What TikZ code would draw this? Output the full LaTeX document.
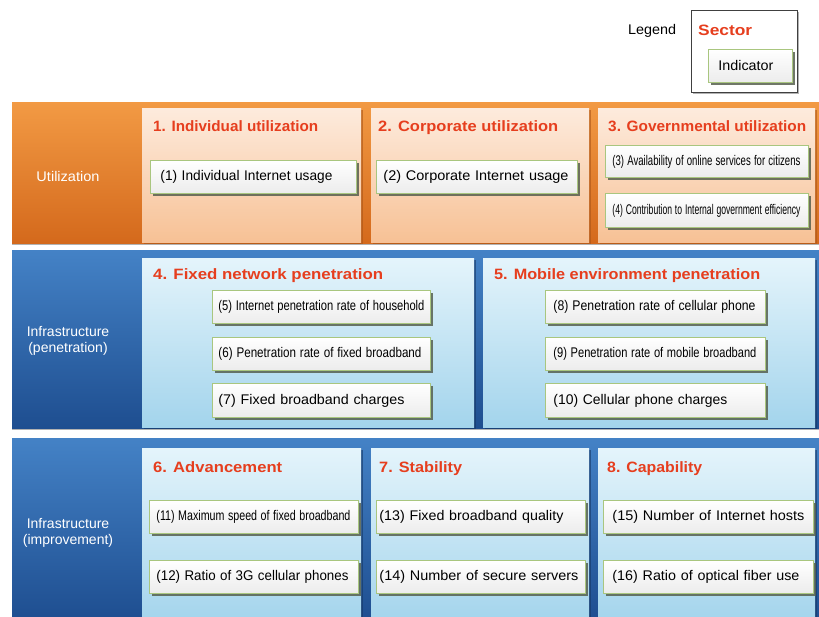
\documentclass[tikz,border=0pt]{standalone}
\usepackage{fontspec}
\setmainfont{Liberation Sans}
\usepackage{graphicx}
\usetikzlibrary{shadows}
\definecolor{titlered}{HTML}{E63E1E}
\definecolor{orangetop}{HTML}{F29A44}
\definecolor{orangebot}{HTML}{D4691C}
\definecolor{peachtop}{HTML}{FDEBDD}
\definecolor{peachbot}{HTML}{F7C195}
\definecolor{bluetop}{HTML}{4482C6}
\definecolor{bluebot}{HTML}{1E4E90}
\definecolor{ltbluetop}{HTML}{E4F4FB}
\definecolor{ltbluebot}{HTML}{A3D4EC}
\definecolor{indborder}{HTML}{A9C67F}
\definecolor{indshadow}{HTML}{56604E}
\definecolor{indbot}{HTML}{ECECEC}
\newcommand{\fitto}[2]{\resizebox{#1pt}{\height}{#2}}
\newcommand{\indic}[8]{%
  \pgfmathsetmacro\indtw{#4-2*#6}%
  \node[indbox, minimum width=#4pt, minimum height=#5pt, inner xsep=#6pt,
        text width=\indtw pt, align=left] (#1) at (#2,#3) {\fitto{#7}{#8}};}
\newcommand{\sectorbox}[7]{%
  \node[secbox, minimum width=#4pt, minimum height=#5pt, top color=#6top, bottom color=#6bot,
        drop shadow={shadow xshift=2pt, shadow yshift=-2pt, fill=#7, opacity=0.6}] (#1) at (#2,#3) {};}
\newcommand{\sectitle}[5]{%
  \node[sectitle] (#1) at (#2,#3) {\fitto{#4}{#5}};}
\begin{document}
\begin{tikzpicture}[x=1pt,y=-1pt,
  every node/.style={font=\fontsize{14}{16}\selectfont},
  band/.style={anchor=north west, inner sep=0, draw=none,
     drop shadow={shadow xshift=0pt, shadow yshift=-2pt, fill=black, opacity=0.3}},
  secbox/.style={anchor=north west, inner sep=0, draw=none},
  sectitle/.style={anchor=base west, inner sep=0, text=titlered, font=\fontsize{15}{17}\selectfont\bfseries},
  indbox/.style={anchor=north west, inner ysep=0, draw=indborder, line width=0.9pt,
     top color=white, bottom color=indbot,
     drop shadow={shadow xshift=2.5pt, shadow yshift=-2.5pt, fill=indshadow, opacity=0.85}},
  bandlabel/.style={text=white, align=center, inner sep=0}
]
\useasboundingbox (0,0) rectangle (819,617);
\fill[white] (0,0) rectangle (819,617);

% Legend
\node[anchor=base west, inner sep=0] (legendlabel) at (628,35) {\fitto{48}{Legend}};
\node[anchor=north west, inner sep=0, draw=black!75, line width=0.9pt, fill=white,
      minimum width=106pt, minimum height=82pt,
      drop shadow={shadow xshift=1.5pt, shadow yshift=-1.5pt, fill=black, opacity=0.3}] (legendbox) at (691,10) {};
\node[sectitle] (legendsector) at (698,36) {\fitto{54}{Sector}};
\indic{legendind}{708}{49}{84}{33}{10}{55}{Indicator}

% Bands
\node[band, minimum width=807pt, minimum height=141pt, top color=orangetop, bottom color=orangebot] (band1) at (12,102) {};
\node[band, minimum width=807pt, minimum height=178pt, top color=bluetop, bottom color=bluebot] (band2) at (12,250) {};
\node[band, minimum width=807pt, minimum height=182pt, top color=bluetop, bottom color=bluebot] (band3) at (12,438) {};

\node[bandlabel] (lab1) at (68,176) {\fitto{63}{Utilization}};
\node[bandlabel] (lab2) at (68,341) {Infrastructure\\(penetration)};
\node[bandlabel] (lab3) at (68,533) {Infrastructure\\(improvement)};

% Sector boxes
\sectorbox{s1}{142}{108}{219}{134}{peach}{orangebot!80!black}
\sectorbox{s2}{371}{108}{218}{134}{peach}{orangebot!80!black}
\sectorbox{s3}{598}{108}{217}{134}{peach}{orangebot!80!black}
\sectorbox{s4}{142}{258}{332}{169}{ltblue}{bluebot!70!black}
\sectorbox{s5}{483}{258}{332}{169}{ltblue}{bluebot!70!black}
\sectorbox{s6}{142}{448}{219}{175}{ltblue}{bluebot!70!black}
\sectorbox{s7}{371}{448}{218}{175}{ltblue}{bluebot!70!black}
\sectorbox{s8}{598}{448}{217}{175}{ltblue}{bluebot!70!black}

% Sector titles
\sectitle{t1}{153}{132}{165}{1. Individual utilization}
\sectitle{t2}{378}{132}{180}{2. Corporate utilization}
\sectitle{t3}{608}{132}{198}{3. Governmental utilization}
\sectitle{t4}{153}{280}{230}{4. Fixed network penetration}
\sectitle{t5}{494}{280}{266}{5. Mobile environment penetration}
\sectitle{t6}{153}{472}{129}{6. Advancement}
\sectitle{t7}{379}{472}{83}{7. Stability}
\sectitle{t8}{607}{472}{95}{8. Capability}

% Indicators
\indic{i1}{150}{160}{206}{33}{10}{172}{(1) Individual Internet usage}
\indic{i2}{376}{160}{201}{33}{7}{185}{(2) Corporate Internet usage}
\indic{i3}{605}{145}{203}{32}{7}{188}{(3) Availability of online services for citizens}
\indic{i4}{605}{193}{203}{34}{7}{188}{(4) Contribution to Internal government efficiency}
\indic{i5}{212}{290}{218}{33}{6}{206}{(5) Internet penetration rate of household}
\indic{i6}{212}{337}{218}{33}{6}{203}{(6) Penetration rate of fixed broadband}
\indic{i7}{212}{383}{218}{34}{6}{186}{(7) Fixed broadband charges}
\indic{i8}{545}{290}{220}{33}{8}{202}{(8) Penetration rate of cellular phone}
\indic{i9}{545}{337}{220}{33}{8}{203}{(9) Penetration rate of mobile broadband}
\indic{i10}{545}{383}{220}{34}{8}{174}{(10) Cellular phone charges}
\indic{i11}{149}{500}{209}{33}{7}{194}{(11) Maximum speed of fixed broadband}
\indic{i12}{149}{560}{209}{33}{7}{192}{(12) Ratio of 3G cellular phones}
\indic{i13}{376}{500}{209}{33}{3}{184}{(13) Fixed broadband quality}
\indic{i14}{376}{560}{209}{33}{3}{199}{(14) Number of secure servers}
\indic{i15}{603}{500}{210}{33}{9}{192}{(15) Number of Internet hosts}
\indic{i16}{603}{560}{210}{33}{9}{187}{(16) Ratio of optical fiber use}
\end{tikzpicture}
\end{document}
